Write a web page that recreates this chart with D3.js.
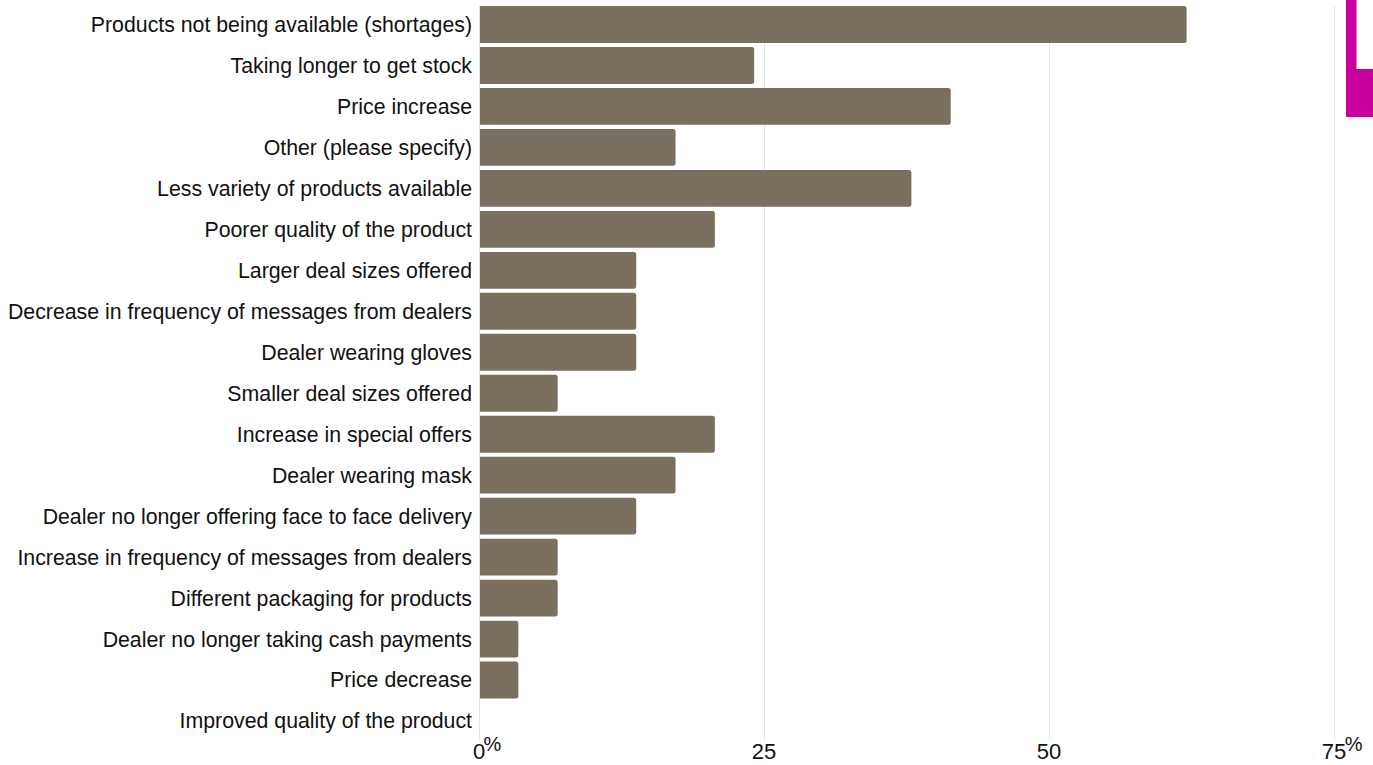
<!DOCTYPE html>
<html><head><meta charset="utf-8">
<script src="https://cdn.jsdelivr.net/npm/d3@7"></script>
<style>
html,body{margin:0;padding:0;background:#fff;}
svg{display:block;font-family:"Liberation Sans",Arial,sans-serif;}
</style></head>
<body>
<svg id="chart" width="1373" height="765"></svg>
<script>
const categories = [
  "Products not being available (shortages)",
  "Taking longer to get stock",
  "Price increase",
  "Other (please specify)",
  "Less variety of products available",
  "Poorer quality of the product",
  "Larger deal sizes offered",
  "Decrease in frequency of messages from dealers",
  "Dealer wearing gloves",
  "Smaller deal sizes offered",
  "Increase in special offers",
  "Dealer wearing mask",
  "Dealer no longer offering face to face delivery",
  "Increase in frequency of messages from dealers",
  "Different packaging for products",
  "Dealer no longer taking cash payments",
  "Price decrease",
  "Improved quality of the product"
];
const values = [62.07, 24.14, 41.38, 17.24, 37.93, 20.69, 13.79, 13.79, 13.79, 6.9, 20.69, 17.24, 13.79, 6.9, 6.9, 3.45, 3.45, 0];
const tickValues = [0, 25, 50, 75];
const tickLabels = ["0", "25", "50", "75"];

const svg = d3.select("#chart");
const x = d3.scaleLinear().domain([0, 75]).range([479, 1334]);
const y = d3.scaleBand().domain(categories).range([4, 741.5]).paddingInner(0.1).paddingOuter(0.05);

// gridlines
svg.append("g").selectAll("line").data(tickValues).join("line")
  .attr("x1", d => x(d)).attr("x2", d => x(d))
  .attr("y1", 6).attr("y2", 740)
  .attr("stroke", "#e3e3e3").attr("stroke-width", 1).attr("shape-rendering", "crispEdges");

// bars
const rx = 2.5;
svg.append("g").selectAll("path").data(categories.map((c, i) => ({c, v: values[i]})).filter(d => d.v > 0)).join("path")
  .attr("fill", "#7b6f60")
  .attr("d", d => {
    const x0 = x(0) + 1, x1 = x(d.v), y0 = y(d.c), h = y.bandwidth();
    return `M${x0},${y0}H${x1 - rx}Q${x1},${y0} ${x1},${y0 + rx}V${y0 + h - rx}Q${x1},${y0 + h} ${x1 - rx},${y0 + h}H${x0}Z`;
  });

// category labels
svg.append("g").selectAll("text").data(categories).join("text")
  .attr("x", 472).attr("y", d => y(d) + y.bandwidth() / 2)
  .attr("dy", "0.35em").attr("text-anchor", "end")
  .attr("font-size", 21.3).attr("fill", "#111")
  .text(d => d);

// x tick labels
const tl = svg.append("g").selectAll("g").data(tickValues).join("g");
tl.append("text")
  .attr("x", d => x(d)).attr("y", 759).attr("text-anchor", "middle")
  .attr("font-size", 22).attr("fill", "#111")
  .text((d, i) => tickLabels[i]);
tl.filter((d, i) => i === 0 || i === tickValues.length - 1).append("text")
  .attr("x", (d, i) => x(d) + (tickLabels[tickValues.indexOf(d)].length * 12.2) / 2 - 1.5)
  .attr("y", 751).attr("font-size", 20).attr("fill", "#111")
  .text("%");

// partial logo at top right
svg.append("rect").attr("x", 1346).attr("y", 0).attr("width", 27).attr("height", 117).attr("fill", "#c8009e");
svg.append("rect").attr("x", 1356.5).attr("y", 0).attr("width", 17).attr("height", 69).attr("fill", "#fff");
</script>
</body></html>
